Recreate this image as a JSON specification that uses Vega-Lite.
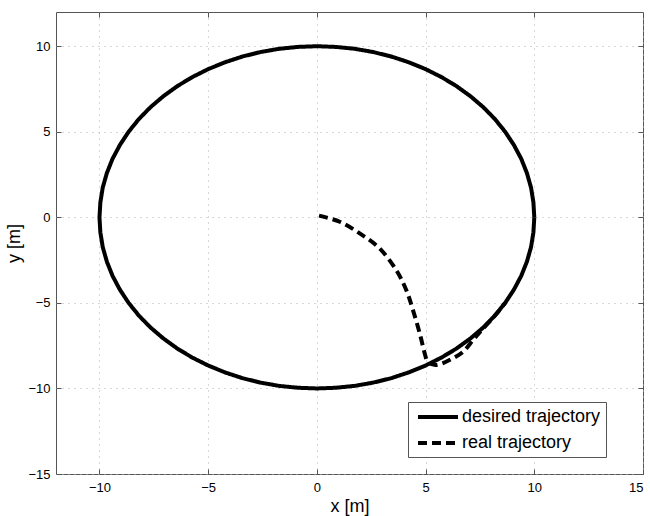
{
  "$schema": "https://vega.github.io/schema/vega-lite/v6.json",
  "width": 587,
  "height": 462,
  "autosize": {"type": "none"},
  "padding": {"left": 56, "top": 12, "right": 7, "bottom": 42},
  "background": "white",
  "config": {
    "view": {"stroke": "#555", "strokeWidth": 1},
    "font": "Liberation Sans",
    "axis": {
      "domain": false,
      "tickColor": "#555",
      "tickSize": -5,
      "gridColor": "#b0b0b0",
      "gridDash": [1, 5],
      "gridWidth": 1,
      "labelFont": "Liberation Sans",
      "labelFontSize": 13,
      "labelColor": "#000",
      "titleFont": "Liberation Sans",
      "titleFontSize": 18,
      "titleFontWeight": "normal",
      "titleColor": "#000"
    },
    "legend": {
      "labelFont": "Liberation Sans",
      "labelFontSize": 18,
      "labelColor": "#000",
      "symbolType": "M-0.625,0H4.375",
      "symbolSize": 256,
      "symbolStrokeWidth": 4,
      "symbolStrokeColor": "#000",
      "strokeColor": "#555",
      "fillColor": "white",
      "padding": 5,
      "rowPadding": 7,
      "labelOffset": 29
    }
  },
  "datasets": {
    "desired": [
      {"i": 0, "x": 10, "y": 0}, {"i": 1, "x": 9.96, "y": 0.87}, {"i": 2, "x": 9.85, "y": 1.74}, {"i": 3, "x": 9.66, "y": 2.59},
      {"i": 4, "x": 9.40, "y": 3.42}, {"i": 5, "x": 9.06, "y": 4.23}, {"i": 6, "x": 8.66, "y": 5.00}, {"i": 7, "x": 8.19, "y": 5.74},
      {"i": 8, "x": 7.66, "y": 6.43}, {"i": 9, "x": 7.07, "y": 7.07}, {"i": 10, "x": 6.43, "y": 7.66}, {"i": 11, "x": 5.74, "y": 8.19},
      {"i": 12, "x": 5.00, "y": 8.66}, {"i": 13, "x": 4.23, "y": 9.06}, {"i": 14, "x": 3.42, "y": 9.40}, {"i": 15, "x": 2.59, "y": 9.66},
      {"i": 16, "x": 1.74, "y": 9.85}, {"i": 17, "x": 0.87, "y": 9.96}, {"i": 18, "x": 0, "y": 10},
      {"i": 19, "x": -0.87, "y": 9.96}, {"i": 20, "x": -1.74, "y": 9.85}, {"i": 21, "x": -2.59, "y": 9.66}, {"i": 22, "x": -3.42, "y": 9.40},
      {"i": 23, "x": -4.23, "y": 9.06}, {"i": 24, "x": -5.00, "y": 8.66}, {"i": 25, "x": -5.74, "y": 8.19}, {"i": 26, "x": -6.43, "y": 7.66},
      {"i": 27, "x": -7.07, "y": 7.07}, {"i": 28, "x": -7.66, "y": 6.43}, {"i": 29, "x": -8.19, "y": 5.74}, {"i": 30, "x": -8.66, "y": 5.00},
      {"i": 31, "x": -9.06, "y": 4.23}, {"i": 32, "x": -9.40, "y": 3.42}, {"i": 33, "x": -9.66, "y": 2.59}, {"i": 34, "x": -9.85, "y": 1.74},
      {"i": 35, "x": -9.96, "y": 0.87}, {"i": 36, "x": -10, "y": 0},
      {"i": 37, "x": -9.96, "y": -0.87}, {"i": 38, "x": -9.85, "y": -1.74}, {"i": 39, "x": -9.66, "y": -2.59}, {"i": 40, "x": -9.40, "y": -3.42},
      {"i": 41, "x": -9.06, "y": -4.23}, {"i": 42, "x": -8.66, "y": -5.00}, {"i": 43, "x": -8.19, "y": -5.74}, {"i": 44, "x": -7.66, "y": -6.43},
      {"i": 45, "x": -7.07, "y": -7.07}, {"i": 46, "x": -6.43, "y": -7.66}, {"i": 47, "x": -5.74, "y": -8.19}, {"i": 48, "x": -5.00, "y": -8.66},
      {"i": 49, "x": -4.23, "y": -9.06}, {"i": 50, "x": -3.42, "y": -9.40}, {"i": 51, "x": -2.59, "y": -9.66}, {"i": 52, "x": -1.74, "y": -9.85},
      {"i": 53, "x": -0.87, "y": -9.96}, {"i": 54, "x": 0, "y": -10},
      {"i": 55, "x": 0.87, "y": -9.96}, {"i": 56, "x": 1.74, "y": -9.85}, {"i": 57, "x": 2.59, "y": -9.66}, {"i": 58, "x": 3.42, "y": -9.40},
      {"i": 59, "x": 4.23, "y": -9.06}, {"i": 60, "x": 5.00, "y": -8.66}, {"i": 61, "x": 5.74, "y": -8.19}, {"i": 62, "x": 6.43, "y": -7.66},
      {"i": 63, "x": 7.07, "y": -7.07}, {"i": 64, "x": 7.66, "y": -6.43}, {"i": 65, "x": 8.19, "y": -5.74}, {"i": 66, "x": 8.66, "y": -5.00},
      {"i": 67, "x": 9.06, "y": -4.23}, {"i": 68, "x": 9.40, "y": -3.42}, {"i": 69, "x": 9.66, "y": -2.59}, {"i": 70, "x": 9.85, "y": -1.74},
      {"i": 71, "x": 9.96, "y": -0.87}, {"i": 72, "x": 10, "y": 0}
    ],
    "real": [
      {"i": 0, "x": 0.10, "y": 0.10}, {"i": 1, "x": 1.05, "y": -0.26}, {"i": 2, "x": 1.97, "y": -0.94}, {"i": 3, "x": 2.89, "y": -1.82},
      {"i": 4, "x": 3.65, "y": -3.08}, {"i": 5, "x": 4.11, "y": -4.25}, {"i": 6, "x": 4.42, "y": -5.42}, {"i": 7, "x": 4.73, "y": -6.78},
      {"i": 8, "x": 4.96, "y": -7.95}, {"i": 9, "x": 5.11, "y": -8.44}, {"i": 10, "x": 5.49, "y": -8.63}, {"i": 11, "x": 6.10, "y": -8.34},
      {"i": 12, "x": 6.72, "y": -7.86}, {"i": 13, "x": 7.18, "y": -7.17}, {"i": 14, "x": 7.56, "y": -6.62}, {"i": 15, "x": 8.19, "y": -5.74},
      {"i": 16, "x": 8.66, "y": -5.00}
    ]
  },
  "layer": [
    {
      "data": {"name": "desired"},
      "transform": [{"calculate": "'desired trajectory'", "as": "s"}],
      "mark": {"type": "line", "strokeWidth": 4, "interpolate": "linear"},
      "encoding": {
        "x": {"field": "x", "type": "quantitative", "scale": {"domain": [-12, 15], "nice": false, "zero": false},
              "axis": {"orient": "bottom", "values": [-10, -5, 0, 5, 10, 15], "title": "x [m]", "labelPadding": 12, "titlePadding": 3}},
        "y": {"field": "y", "type": "quantitative", "scale": {"domain": [-15, 12], "nice": false, "zero": false},
              "axis": {"orient": "left", "values": [-15, -10, -5, 0, 5, 10], "title": "y [m]", "labelPadding": 11, "titlePadding": 4}},
        "order": {"field": "i", "type": "quantitative"},
        "color": {"field": "s", "type": "nominal",
                  "scale": {"domain": ["desired trajectory", "real trajectory"], "range": ["#000000", "#000000"]},
                  "legend": {"title": null, "orient": "none", "legendX": 352, "legendY": 390}},
        "strokeDash": {"field": "s", "type": "nominal",
                       "scale": {"domain": ["desired trajectory", "real trajectory"], "range": [[1, 0], [9, 5]]},
                       "legend": {"title": null, "orient": "none", "legendX": 352, "legendY": 390}}
      }
    },
    {
      "data": {"name": "real"},
      "transform": [{"calculate": "'real trajectory'", "as": "s"}],
      "mark": {"type": "line", "strokeWidth": 4, "interpolate": "cardinal"},
      "encoding": {
        "x": {"field": "x", "type": "quantitative",
              "axis": {"orient": "top", "values": [-10, -5, 0, 5, 10, 15], "labels": false, "title": null, "grid": false}},
        "y": {"field": "y", "type": "quantitative",
              "axis": {"orient": "right", "values": [-15, -10, -5, 0, 5, 10], "labels": false, "title": null, "grid": false}},
        "order": {"field": "i", "type": "quantitative"},
        "color": {"field": "s", "type": "nominal"},
        "strokeDash": {"field": "s", "type": "nominal"}
      }
    }
  ],
  "resolve": {"axis": {"x": "independent", "y": "independent"}}
}
